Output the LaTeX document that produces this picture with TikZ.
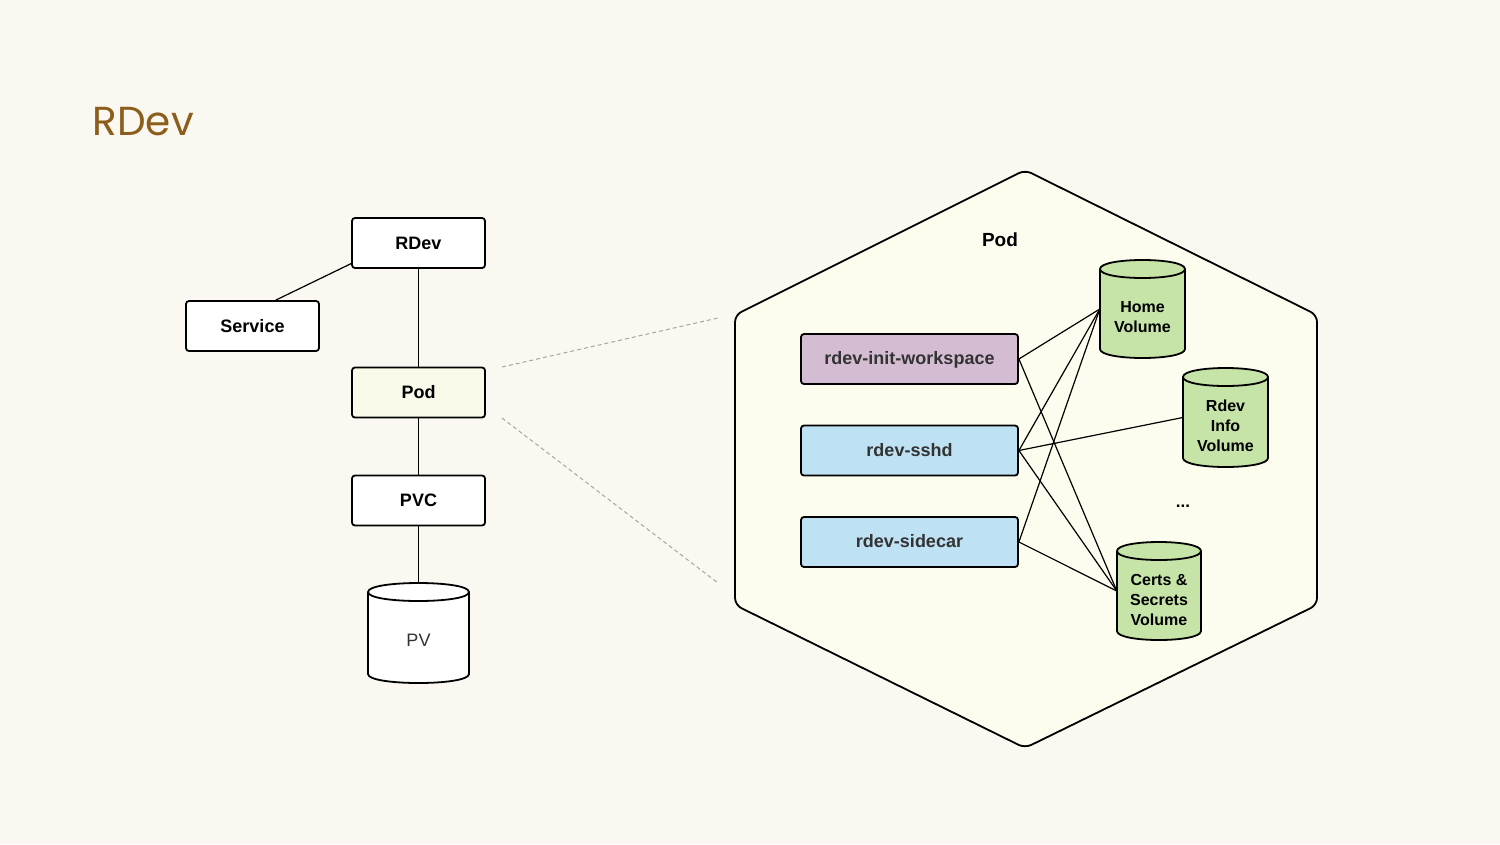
\documentclass[tikz,border=0pt]{standalone}
\usepackage{fontspec}
\setmainfont{Liberation Sans}
\newfontfamily\titlefont{Poppins}
\definecolor{bgc}{HTML}{FBF8F1}
\definecolor{hexfill}{HTML}{FDFDEF}
\definecolor{podfill}{HTML}{F9FAEA}
\definecolor{initfill}{HTML}{D4BDD3}
\definecolor{bluefill}{HTML}{BEE2F4}
\definecolor{volfill}{HTML}{C6E4A8}
\definecolor{titlec}{HTML}{8C5E1C}
\definecolor{txt}{HTML}{333333}
\newcommand\mycyl[7]{%
  \draw[cylline, fill=#6] (#2,{#3+9}) -- (#2,{#5-9}) .. controls (#2,{#5+3}) and (#4,{#5+3}) .. (#4,{#5-9}) -- (#4,{#3+9}) .. controls (#4,{#3-3}) and (#2,{#3-3}) .. cycle;
  \draw[cylline] (#2,{#3+9}) .. controls (#2,{#3+21}) and (#4,{#3+21}) .. (#4,{#3+9});
  \node[minimum width={#4-#2}, minimum height={#5-#3}, inner sep=0pt] (#1) at ({(#2+#4)/2},{(#3+#5)/2}) {};
}
\begin{document}
\begin{tikzpicture}[x=1pt,y=-1pt,
  box/.style={draw, line width=1.8pt, rounded corners=3pt, fill=white, minimum width=133pt, minimum height=50pt, inner sep=0pt, text height=13pt, text depth=1pt, font=\bfseries\fontsize{18}{21}\selectfont},
  cbox/.style={draw, line width=1.8pt, rounded corners=3pt, minimum width=217pt, minimum height=50pt, inner sep=0pt, text height=13pt, text depth=2pt, text=txt, font=\bfseries\fontsize{18}{21}\selectfont},
  cylline/.style={line width=1.8pt, line join=round},
  voltext/.style={align=center, font=\bfseries\fontsize{16}{20}\selectfont, inner sep=0pt},
  link/.style={line width=1.2pt},
  guide/.style={line width=1pt, dashed, draw=black!35, dash pattern=on 4pt off 3pt}]
\fill[bgc] (0,0) rectangle (1500,844);
\useasboundingbox (0,0) rectangle (1500,844);

% title
\node[anchor=west, inner sep=0pt, text=titlec, font=\titlefont\fontsize{40.5}{44}\selectfont] (title) at (92.5,122) {RDev};

% left tree
\node[box] (rdev) at (418.5,243) {RDev};
\node[box] (service) at (252.5,326) {Service};
\node[box, fill=podfill] (pod) at (418.5,392.5) {Pod};
\node[box] (pvc) at (418.5,500.5) {PVC};
\mycyl{pv}{368}{583}{469}{683}{white}{}
\node[inner sep=0pt, text=txt, font=\fontsize{18}{21}\selectfont] (pvT) at (418.5,640) {PV};

\draw[link] (rdev.197) -- (service.48);
\draw[link] (rdev.south) -- (pod.north);
\draw[link] (pod.south) -- (pvc.north);
\draw[link] (pvc.south) -- (pv.north);

% hexagon
\draw[line width=1.8pt, fill=hexfill, rounded corners=7pt]
  (1025,170) -- (1317,315) -- (1317,605) -- (1025,748) -- (735,605) -- (735,315) -- cycle;

% guides
\coordinate (g1a) at (502,367);
\coordinate (g1b) at (718,318);
\coordinate (g2a) at (502,418);
\coordinate (g2b) at (718,583);
\draw[guide] (g1a) -- (g1b);
\draw[guide] (g2a) -- (g2b);

\node[inner sep=0pt, font=\bfseries\fontsize{19}{22}\selectfont] (podT) at (1000,240) {Pod};

% containers
\node[cbox, fill=initfill] (init) at (909.5,359) {rdev-init-workspace};
\node[cbox, fill=bluefill] (sshd) at (909.5,450.5) {rdev-sshd};
\node[cbox, fill=bluefill] (sidecar) at (909.5,542) {rdev-sidecar};

% volumes
\mycyl{home}{1100}{260}{1185}{358}{volfill}{}
\node[voltext] (homeT) at (1142.5,317) {Home\\Volume};
\mycyl{info}{1183}{368}{1268}{467}{volfill}{}
\node[voltext] (infoT) at (1225.5,426) {Rdev\\Info\\Volume};
\mycyl{certs}{1117}{542}{1201}{640}{volfill}{}
\node[voltext] (certsT) at (1159,600) {Certs \&\\Secrets\\Volume};
\node[inner sep=0pt, font=\bfseries\fontsize{17}{18}\selectfont] (dots) at (1183,506) {...};

% links
\draw[link] (init.east) -- (home.west);
\draw[link] (init.east) -- (certs.west);
\draw[link] (sshd.east) -- (home.west);
\draw[link] (sshd.east) -- (info.west);
\draw[link] (sshd.east) -- (certs.west);
\draw[link] (sidecar.east) -- (home.west);
\draw[link] (sidecar.east) -- (certs.west);
\end{tikzpicture}
\end{document}
